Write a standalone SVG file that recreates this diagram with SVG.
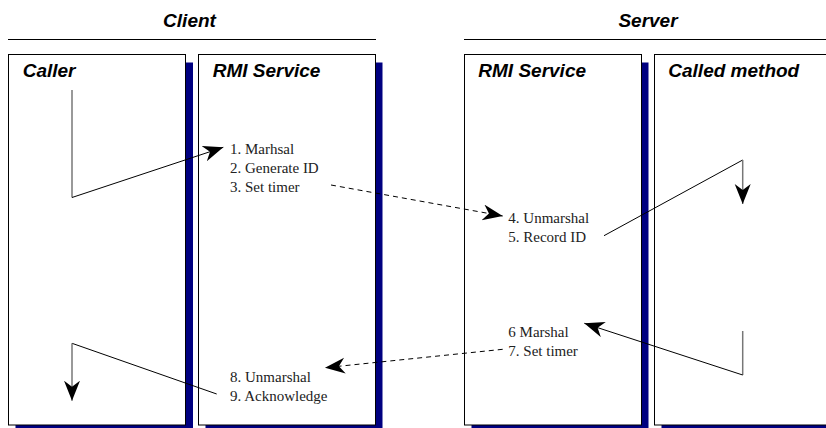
<svg xmlns="http://www.w3.org/2000/svg" width="826" height="428" viewBox="0 0 826 428">
<style>
.box{fill:#fff;stroke:#000;stroke-width:1}
.shadow{fill:#000080;stroke:none}
.hdr{font-family:"Liberation Sans",Arial,sans-serif;font-weight:bold;font-style:italic;font-size:19px;fill:#000}
.txt{font-family:"Liberation Serif","Times New Roman",serif;font-size:15px;fill:#222}
.rule{stroke:#000;stroke-width:1}
.ln{fill:none;stroke:#000;stroke-width:1}
.vg{fill:none;stroke:#777;stroke-width:1.5}
.dash{fill:none;stroke:#000;stroke-width:1;stroke-dasharray:5 4}
</style>
<defs>
<marker id="ah" markerUnits="userSpaceOnUse" markerWidth="22" markerHeight="18" refX="20" refY="8" orient="auto">
<path d="M0,0 L20,8 L0,16 L6,8 Z" fill="#000"/>
</marker>
</defs>
<rect width="826" height="428" fill="#fff"/>
<g id="headers">
<text class="hdr" x="189.5" y="27" text-anchor="middle">Client</text>
<line class="rule" x1="8" y1="39.5" x2="376" y2="39.5"/>
<text class="hdr" x="648" y="27" text-anchor="middle">Server</text>
<line class="rule" x1="464" y1="39.5" x2="826" y2="39.5"/>
</g>
<g id="caller">
<rect class="shadow" x="15.5" y="62.5" width="177.5" height="370"/>
<rect class="box" x="8.5" y="54.5" width="177" height="370.5"/>
<text class="hdr" x="22.7" y="77.3">Caller</text>
</g>
<g id="rmi-client">
<rect class="shadow" x="205.5" y="62.5" width="177" height="370"/>
<rect class="box" x="198.5" y="54.5" width="177" height="370.5"/>
<text class="hdr" x="212.7" y="77.3">RMI Service</text>
<text class="txt" x="230" y="154">1. Marhsal</text>
<text class="txt" x="230" y="173">2. Generate ID</text>
<text class="txt" x="230" y="192">3. Set timer</text>
<text class="txt" x="230" y="382">8. Unmarshal</text>
<text class="txt" x="230" y="401">9. Acknowledge</text>
</g>
<g id="rmi-server">
<rect class="shadow" x="471.5" y="62.5" width="177" height="370"/>
<rect class="box" x="464.5" y="54.5" width="177" height="370.5"/>
<text class="hdr" x="478.3" y="77.3">RMI Service</text>
<text class="txt" x="508.3" y="223">4. Unmarshal</text>
<text class="txt" x="508.3" y="242">5. Record ID</text>
<text class="txt" x="508.3" y="337">6 Marshal</text>
<text class="txt" x="508.3" y="356">7. Set timer</text>
</g>
<g id="called-method">
<rect class="shadow" x="661.5" y="62.5" width="177" height="370"/>
<rect class="box" x="654.5" y="54.5" width="177" height="370.5"/>
<text class="hdr" x="668.3" y="77.3">Called method</text>
</g>
<g id="connectors">
<path class="vg" d="M72,90 V197.5"/>
<path class="ln" d="M72,197.5 L223.3,147.3" marker-end="url(#ah)"/>
<path class="dash" d="M331,185 L502.7,216" marker-end="url(#ah)"/>
<path class="ln" d="M604,235.7 L742.7,160"/>
<path class="vg" d="M742.7,160 V204" marker-end="url(#ah)"/>
<path class="vg" d="M742.7,331 V375"/>
<path class="ln" d="M742.7,375 L584.3,323.3" marker-end="url(#ah)"/>
<path class="dash" d="M502.7,349.3 L325,367.7" marker-end="url(#ah)"/>
<path class="ln" d="M216.7,394 L72,343.3"/>
<path class="vg" d="M72,343.3 V400.7" marker-end="url(#ah)"/>
</g>
</svg>
